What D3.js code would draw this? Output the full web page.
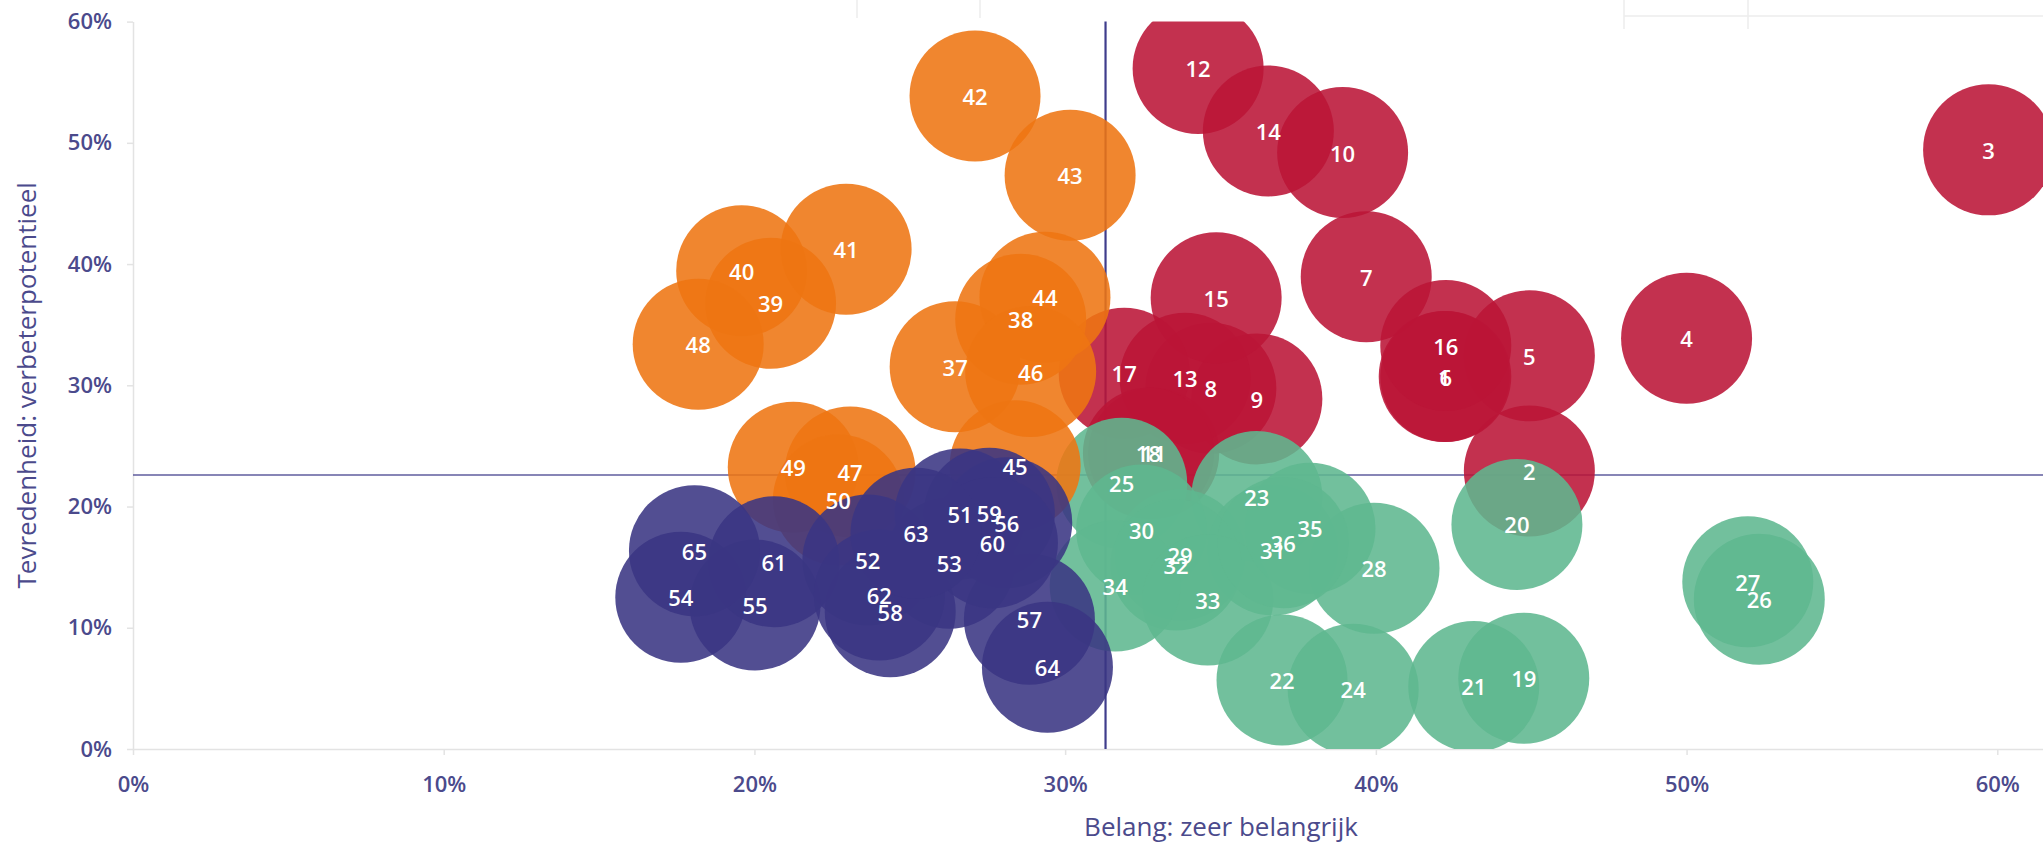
<!DOCTYPE html>
<html>
<head>
<meta charset="utf-8">
<script src="https://cdn.jsdelivr.net/npm/d3@7"></script>
<style>
  html, body { margin: 0; padding: 0; background: #ffffff; }
  svg { display: block; font-family: "Open Sans", "Noto Sans", sans-serif; }
</style>
</head>
<body>
<svg id="chart" width="2043" height="846"></svg>
<script>
// ---------------- DATA ----------------
// Series 1 (red): items 1-18
const redIds = [1,2,3,4,5,6,7,8,9,10,11,12,13,14,15,16,17,18];
const redX   = [42.20,44.94,59.72,50.00,44.94,42.25,39.69,34.69,36.17,38.93,32.85,34.28,33.86,36.54,34.86,42.25,31.90,32.68];
const redY   = [30.72,22.93,49.42,33.88,32.43,30.72,38.96,29.76,28.88,49.20,24.40,56.14,30.58,50.98,37.22,33.28,31.00,24.40];

// Series 2 (green): items 19-36
const greenIds = [19,20,21,22,23,24,25,26,27,28,29,30,31,32,33,34,35,36];
const greenX   = [44.76,44.54,43.15,36.98,36.17,39.27,31.82,52.34,51.97,39.94,33.70,32.46,36.68,33.57,34.59,31.61,37.88,37.02];
const greenY   = [5.83,18.52,5.16,5.69,20.82,4.93,21.92,12.35,13.80,14.91,16.00,18.07,16.42,15.18,12.29,13.45,18.21,17.02];

// Series 3 (orange): items 37-50
const orangeIds = [37,38,39,40,41,42,43,44,45,46,47,48,49,50];
const orangeX   = [26.46,28.57,20.52,19.59,22.95,27.10,30.16,29.35,28.39,28.89,23.08,18.19,21.25,22.70];
const orangeY   = [31.54,35.45,36.77,39.45,41.23,53.87,47.33,37.27,23.37,31.13,22.84,33.39,23.24,20.54];

// Series 4 (purple): items 51-65
const purpleIds = [51,52,53,54,55,56,57,58,59,60,61,62,63,64,65];
const purpleX   = [26.62,23.65,26.27,17.63,20.02,28.12,28.85,24.37,27.56,27.66,20.63,24.02,25.20,29.43,18.07];
const purpleY   = [19.39,15.59,15.32,12.51,11.88,18.67,10.70,11.33,19.45,17.02,15.45,12.71,17.80,6.74,16.36];

// Reference (average) lines
const avgBelang = 31.3;
const avgVerbeter = 22.6;

// Axis ticks
const xTicks = [0,10,20,30,40,50,60];
const xTickLabels = ["0%","10%","20%","30%","40%","50%","60%"];
const yTicks = [0,10,20,30,40,50,60];
const yTickLabels = ["0%","10%","20%","30%","40%","50%","60%"];

const xTitle = "Belang: zeer belangrijk";
const yTitle = "Tevredenheid: verbeterpotentieel";

// ---------------- CHART ----------------
const seriesColors = ["#BB1437", "#5FB78F", "#EE7512", "#3A3683"];
const series = [
  {ids: redIds, xs: redX, ys: redY},
  {ids: greenIds, xs: greenX, ys: greenY},
  {ids: orangeIds, xs: orangeX, ys: orangeY},
  {ids: purpleIds, xs: purpleX, ys: purpleY}
];
const points = [];
series.forEach((s, si) => {
  s.ids.forEach((id, i) => points.push({id, x: s.xs[i], y: s.ys[i], color: seriesColors[si]}));
});

const W = 2043, H = 846;
const plotLeft = 133, plotRight = 2308, plotTop = 21.6, plotBottom = 749;
const textColor = "#4B4A8C";
const axisColor = "#E3E3E3";
const R = 65.5;

const svg = d3.select("#chart");

const x = d3.scaleLinear().domain([0, 70]).range([plotLeft, plotRight]);
const y = d3.scaleLinear().domain([0, 60]).range([plotBottom, plotTop]);

// faint frame remnants at the top of the picture
const deco = svg.append("g").attr("stroke", "#EDEDED").attr("stroke-width", 1.5);
[857, 980].forEach(px => deco.append("line").attr("x1", px).attr("x2", px).attr("y1", 0).attr("y2", 18));
[1624, 1748].forEach(px => deco.append("line").attr("x1", px).attr("x2", px).attr("y1", 0).attr("y2", 29));
deco.append("line").attr("x1", 1624).attr("x2", W).attr("y1", 16).attr("y2", 16);

// Axes
const xAxis = d3.axisBottom(x).tickValues(xTicks).tickFormat((d, i) => xTickLabels[i])
  .tickSizeInner(6).tickSizeOuter(0).tickPadding(21);
const yAxis = d3.axisLeft(y).tickValues(yTicks).tickFormat((d, i) => yTickLabels[i])
  .tickSizeInner(6).tickSizeOuter(0).tickPadding(15);

const gx = svg.append("g").attr("transform", `translate(0,${plotBottom})`).call(xAxis);
const gy = svg.append("g").attr("transform", `translate(${plotLeft},0)`).call(yAxis);
[gx, gy].forEach(g => {
  g.select(".domain").attr("stroke", axisColor).attr("stroke-width", 1.5);
  g.selectAll(".tick line").attr("stroke", axisColor).attr("stroke-width", 1.5);
  g.selectAll(".tick text").attr("fill", textColor).attr("font-size", 22).attr("font-weight", 600)
    .attr("font-family", "\"Open Sans\", sans-serif");
});

// Axis titles
svg.append("text").attr("x", 1221).attr("y", 826).attr("text-anchor", "middle")
  .attr("dominant-baseline", "central").attr("fill", textColor)
  .attr("font-size", 26).text(xTitle);
svg.append("text").attr("transform", `translate(26,${(plotTop + plotBottom) / 2}) rotate(-90)`)
  .attr("text-anchor", "middle").attr("dominant-baseline", "central").attr("fill", textColor)
  .attr("font-size", 26).text(yTitle);

// Clip
svg.append("clipPath").attr("id", "plotClip").append("rect")
  .attr("x", plotLeft).attr("y", plotTop).attr("width", plotRight - plotLeft).attr("height", plotBottom - plotTop);

// Reference lines
svg.append("line").attr("x1", plotLeft).attr("x2", plotRight)
  .attr("y1", y(avgVerbeter)).attr("y2", y(avgVerbeter))
  .attr("stroke", "#5F5C9E").attr("stroke-width", 1.5);
svg.append("line").attr("x1", x(avgBelang)).attr("x2", x(avgBelang))
  .attr("y1", plotTop).attr("y2", plotBottom)
  .attr("stroke", "#3F3D8C").attr("stroke-width", 2.2);

// Bubbles
const gB = svg.append("g").attr("clip-path", "url(#plotClip)");
gB.selectAll("circle").data(points).join("circle")
  .attr("cx", d => x(d.x)).attr("cy", d => y(d.y)).attr("r", R)
  .attr("fill", d => d.color).attr("fill-opacity", 0.88);

// Labels
svg.append("g").selectAll("text").data(points).join("text")
  .attr("x", d => x(d.x)).attr("y", d => y(d.y))
  .attr("text-anchor", "middle").attr("dominant-baseline", "central")
  .attr("fill", "#ffffff").attr("font-size", 22).attr("font-weight", 600)
  .text(d => d.id);
</script>
</body>
</html>
